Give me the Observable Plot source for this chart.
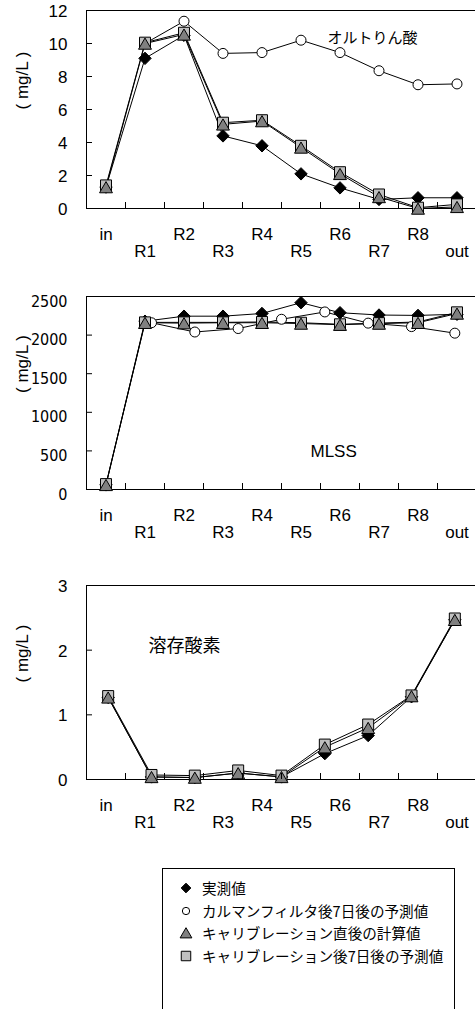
<!DOCTYPE html>
<html><head><meta charset="utf-8">
<script src="https://cdn.jsdelivr.net/npm/d3@7"></script>
<script src="https://cdn.jsdelivr.net/npm/@observablehq/plot@0.6"></script>
<style>
html,body{margin:0;padding:0;background:#fff;overflow:hidden;width:475px;height:1009px}
svg{display:block;max-width:none !important}
#legend{position:absolute;left:162px;top:868px;width:293px;height:160px;border:1px solid #000;border-bottom:none;box-sizing:border-box;font-family:"Noto Sans CJK JP",sans-serif;font-size:14.6px;color:#000}
.row{position:absolute;left:0;height:22px;line-height:22px;white-space:nowrap}
.row svg{position:absolute;left:14px;top:3px}
.row span{position:absolute;left:39px;top:0}
</style></head><body>
<div id="c1"></div><div id="c2"></div><div id="c3"></div>
<div id="legend"></div>
<script>
// categories and tick labels
const categories = ["in","R1","R2","R3","R4","R5","R6","R7","R8","out"];
const opTicks = [0,2,4,6,8,10,12];
const mlTicks = [0,500,1000,1500,2000,2500];
const doTicks = [0,1,2,3];
const seriesNames = ["実測値","カルマンフィルタ後7日後の予測値","キャリブレーション直後の計算値","キャリブレーション後7日後の予測値"];

// オルトりん酸 (mg/L)
const opMeasured = [1.3, 9.1, 10.5, 4.4, 3.8, 2.1, 1.25, 0.55, 0.65, 0.65];
const opKalman   = [null, 10.0, 11.35, 9.4, 9.45, 10.2, 9.45, 8.35, 7.5, 7.55];
const opCalib    = [1.3, 10.0, 10.55, 5.1, 5.3, 3.7, 2.1, 0.7, 0.0, 0.1];
const opPred7    = [1.4, 10.05, 10.65, 5.2, 5.35, 3.8, 2.2, 0.85, 0.05, 0.25];

// MLSS (mg/L)
const mlMeasured = [60, 2180, 2245, 2245, 2280, 2420, 2290, 2260, 2255, 2270];
const mlKalman   = [null, 2160, 2040, 2085, 2205, 2300, 2155, 2110, 2025];
const mlCalib    = [60, 2160, 2155, 2160, 2160, 2150, 2135, 2150, 2160, 2280];
const mlPred7    = [70, 2165, 2165, 2165, 2170, 2160, 2140, 2155, 2170, 2295];

// 溶存酸素 (mg/L)
const doMeasured = [1.27, 0.04, 0.03, 0.1, 0.04, 0.4, 0.68, 1.28, 2.47];
const doCalib    = [1.27, 0.04, 0.03, 0.1, 0.04, 0.5, 0.8, 1.29, 2.47];
const doPred7    = [1.29, 0.07, 0.06, 0.14, 0.06, 0.54, 0.85, 1.3, 2.49];

const LATIN = '"Liberation Sans", Arial, sans-serif';
const NARROW = '"Liberation Sans Narrow", "Arial Narrow", "DejaVu Sans Condensed", sans-serif';
const CJK = '"Noto Sans CJK JP", sans-serif';

const styles = {
  measured: {symbol: "diamond2", r: 5.6, fill: "black", dy: 0},
  kalman:   {symbol: "circle", r: 5, fill: "white", dy: 0},
  pred7:    {symbol: "square", r: 6.2, fill: "#c0c0c0", dy: 0},
  calib:    {symbol: "triangle", r: 4.8, fill: "#808080", dy: 2}
};
const order = ["measured","kalman","pred7","calib"];

function toRows(vals) {
  return vals.map((v, j) => ({x: (j + 0.5) * categories.length / vals.length, y: v})).filter(d => d.y != null);
}

function makeChart({series, yDomain, yTicks, height, marginTop, marginBottom, title, titleDx, titleDy, titleSize, titleFont, yFont, yFamily, yDy}) {
  const marks = [Plot.frame({stroke: "black"})];
  for (const k of order) if (series[k]) marks.push(Plot.line(toRows(series[k]), {x: "x", y: "y", stroke: "black", strokeWidth: 1}));
  for (const k of order) if (series[k]) {
    const s = styles[k];
    marks.push(Plot.dot(toRows(series[k]), {x: "x", y: "y", symbol: s.symbol, r: s.r, fill: s.fill, stroke: "black", strokeWidth: 1, dy: s.dy}));
  }
  const edges = d3.range(1, categories.length);
  marks.push(Plot.axisX({ticks: edges, tickSize: -6, tickFormat: () => "", label: null}));
  marks.push(Plot.axisY({ticks: yTicks, tickSize: -6, tickFormat: () => "", label: null}));
  marks.push(Plot.axisY({ticks: yTicks, tickSize: 0, tickPadding: 19, label: null, fontSize: yFont, fontFamily: yFamily, dy: yDy, tickFormat: d => String(d)}));
  const idx = d3.range(categories.length);
  marks.push(Plot.text(idx.filter(i => i % 2 === 0), {x: i => i + 0.5, text: i => categories[i], frameAnchor: "bottom", dy: 31, fontSize: 17, fontFamily: LATIN}));
  marks.push(Plot.text(idx.filter(i => i % 2 === 1), {x: i => i + 0.5, text: i => categories[i], frameAnchor: "bottom", dy: 48, fontSize: 17, fontFamily: LATIN}));
  marks.push(Plot.text(["( mg/L )"], {frameAnchor: "left", dx: -64, rotate: -90, fontSize: 17, fontFamily: LATIN}));
  marks.push(Plot.text([title], {frameAnchor: "top-left", dx: titleDx, dy: titleDy, textAnchor: "start", fontSize: titleSize, fontFamily: titleFont}));
  return Plot.plot({
    width: 476, height, marginLeft: 86, marginRight: 0, marginTop, marginBottom,
    x: {domain: [0, categories.length]},
    y: {domain: yDomain},
    style: {fontFamily: LATIN, fontSize: "17px", color: "black", background: "white", overflow: "visible"},
    marks
  });
}

document.getElementById("c1").append(makeChart({
  series: {measured: opMeasured, kalman: opKalman, pred7: opPred7, calib: opCalib},
  yDomain: [0, 12], yTicks: opTicks, height: 270, marginTop: 10, marginBottom: 62,
  title: "オルトりん酸", titleDx: 241, titleDy: 22, titleSize: 15, titleFont: CJK, yFont: 17, yFamily: LATIN, yDy: 1
}));
document.getElementById("c2").append(makeChart({
  series: {measured: mlMeasured, kalman: mlKalman, pred7: mlPred7, calib: mlCalib},
  yDomain: [0, 2500], yTicks: mlTicks, height: 290, marginTop: 26, marginBottom: 71,
  title: "MLSS", titleDx: 224, titleDy: 148, titleSize: 17, titleFont: LATIN, yFont: 16, yFamily: NARROW, yDy: 5
}));
document.getElementById("c3").append(makeChart({
  series: {measured: doMeasured, pred7: doPred7, calib: doCalib},
  yDomain: [0, 3], yTicks: doTicks, height: 290, marginTop: 25, marginBottom: 71,
  title: "溶存酸素", titleDx: 62, titleDy: 54, titleSize: 18, titleFont: CJK, yFont: 17, yFamily: LATIN, yDy: 1
}));

// legend
const legend = document.getElementById("legend");
const legendSyms = [
  {sym: d3.symbolDiamond2, size: 60, fill: "black", dy: 0},
  {sym: d3.symbolCircle, size: 42, fill: "white", dy: 0},
  {sym: d3.symbolTriangle, size: 60, fill: "#808080", dy: 1.5},
  {sym: d3.symbolSquare, size: 90, fill: "#c0c0c0", dy: 0}
];
seriesNames.forEach((name, k) => {
  const row = document.createElement("div");
  row.className = "row";
  row.style.top = (8 + k * 22.7) + "px";
  const s = legendSyms[k];
  const path = d3.symbol(s.sym, s.size)();
  row.innerHTML = `<svg width="18" height="16" viewBox="-9 -8 18 16"><path d="${path}" transform="translate(0,${s.dy})" fill="${s.fill}" stroke="black" stroke-width="1"/></svg><span>${name}</span>`;
  legend.append(row);
});
</script>
</body></html>
